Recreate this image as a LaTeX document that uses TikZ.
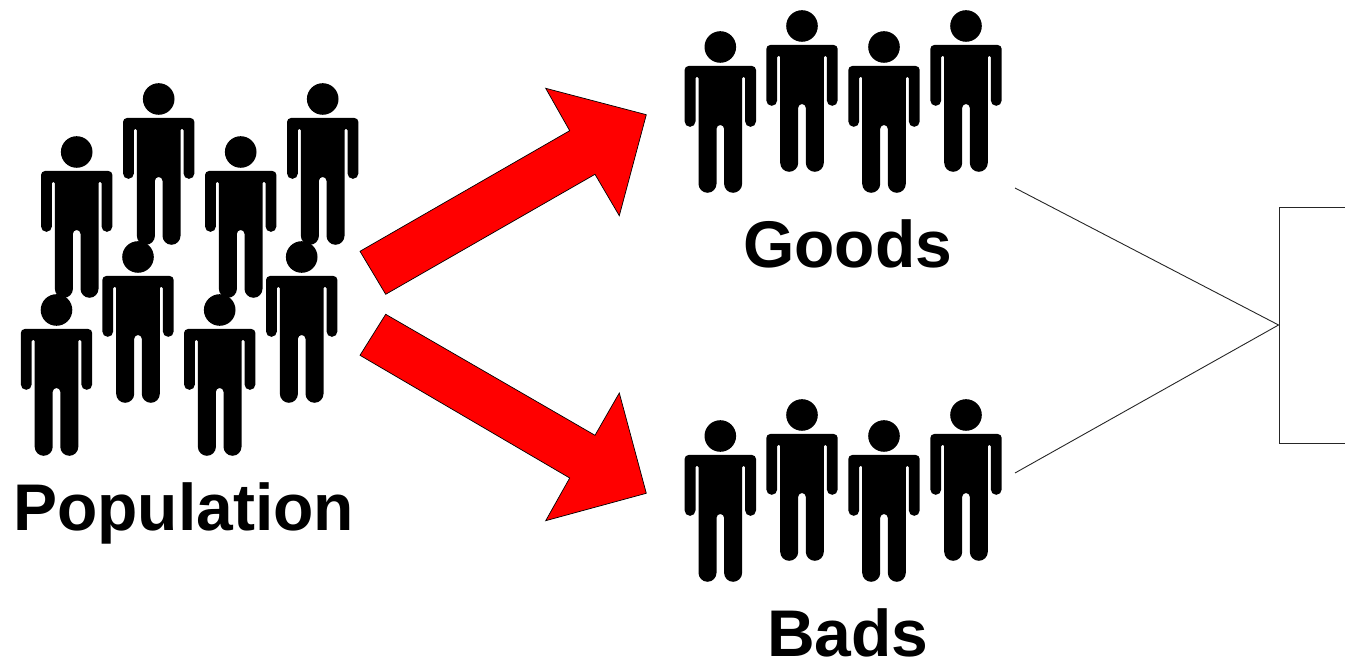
\documentclass[tikz,border=0pt]{standalone}
\usepackage{fontspec}
\setmainfont{Liberation Sans}
\usepackage{xcolor}
\usetikzlibrary{positioning}

\begin{document}
\begin{tikzpicture}[
    x=1pt, y=1pt,
    person/.pic={
      \fill[black] (0,0) circle (15.8);
      \fill[black] (-35.7,-23) arc[start angle=180, end angle=90, radius=4] -- (31.7,-19)
        arc[start angle=90, end angle=0, radius=4] -- (35.7,-74.4)
        arc[start angle=0, end angle=-180, radius=5.45] -- (24.8,-31.2)
        arc[start angle=0, end angle=180, radius=1.5] -- (21.8,-136.8)
        arc[start angle=0, end angle=-180, radius=9] -- (3.8,-81.8)
        arc[start angle=0, end angle=180, radius=3.8] -- (-3.8,-136.8)
        arc[start angle=0, end angle=-180, radius=9] -- (-21.8,-31.2)
        arc[start angle=0, end angle=180, radius=1.5] -- (-24.8,-74.4)
        arc[start angle=0, end angle=-180, radius=5.45] -- cycle;
    },
    bigarrow/.style={draw=black, fill=red, line width=0.7pt, line join=miter},
    grouplabel/.style={font=\fontsize{66}{66}\selectfont\bfseries, anchor=base, inner sep=0pt},
    thinline/.style={draw=black!85, line width=0.9pt},
]
\useasboundingbox (0,0) rectangle (1345,659);

% Population
\pic at (76.7,507) {person};
\pic at (158.7,560) {person};
\pic at (240.7,507) {person};
\pic at (322.7,560) {person};
\pic at (56.5,349) {person};
\pic at (138,402) {person};
\pic at (219.7,349) {person};
\pic at (301.7,402) {person};
\node (population) [grouplabel] at (183.5,128) {Population};

% Goods
\pic at (720.3,612) {person};
\pic at (802,633) {person};
\pic at (884,612) {person};
\pic at (966,633) {person};
\node (goods) [grouplabel] at (847.5,391.5) {Goods};

% Bads
\pic at (720.3,223) {person};
\pic at (802,244) {person};
\pic at (884,223) {person};
\pic at (966,244) {person};
\node (bads) [grouplabel] at (848,2.5) {Bads};

% Red arrows
\draw[bigarrow] (360,407.7) -- (385.7,364.7) -- (595,484.7) -- (619.3,443.3) -- (646.3,544.3) -- (545.7,570.7) -- (569.7,528.3) -- cycle;
\draw[bigarrow] (360,303.7) -- (385.7,344.7) -- (595,223.7) -- (619.3,266) -- (646.3,165.7) -- (545.7,138.3) -- (569.7,181) -- cycle;

% Box running off the page
\node (box) [rectangle, thinline, minimum width=200pt, minimum height=236pt, inner sep=0pt] at (1379,334) {};

% Lines into the box
\coordinate (goodsend) at (1015,471);
\coordinate (badsend) at (1015,186);
\draw[thinline] (goodsend) -- (box.west);
\draw[thinline] (badsend) -- (box.west);
\end{tikzpicture}
\end{document}
